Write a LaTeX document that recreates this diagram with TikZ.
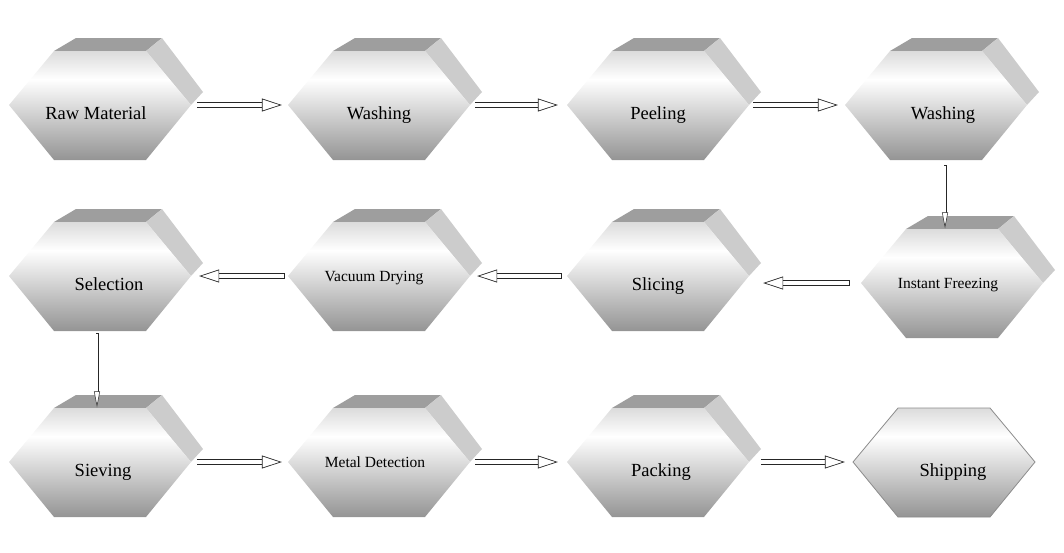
\documentclass[tikz,border=0pt]{standalone}
\usepackage{fontspec}
\setmainfont{Liberation Serif}
\usetikzlibrary{arrows.meta}
\pgfdeclareverticalshading{hexfront}{100bp}{color(0bp)=(black!42); color(25bp)=(black!42); color(62bp)=(white); color(75bp)=(black!14); color(100bp)=(black!14)}
\newcommand{\hexstep}[4][]{%
  \begin{scope}[shift={#3}]
    \fill[hex-top] (-46,-54) -- (-24,-67) -- (62,-67) -- (46,-54) -- cycle;
    \fill[hex-side] (46,-54) -- (62,-67) -- (103,-13) -- (91,0) -- cycle;
    \shade[hex-front] (-91,0) -- (-46,-54) -- (46,-54) -- (91,0) -- (46,55) -- (-46,55) -- cycle;
  \end{scope}
  \node[hex-node, #1] (#2) at #3 {#4};
}

\begin{document}
\begin{tikzpicture}[
      x=1pt, y=-1pt,
      hex-top/.style={fill=black!38},
      hex-side/.style={fill=black!20},
      hex-front/.style={shading=hexfront},
      hex-node/.style={minimum width=182pt, minimum height=109pt, inner sep=0pt},
      big-text/.style={font=\fontsize{18.5}{20}\selectfont, text height=30pt, text depth=2pt},
      small-text/.style={font=\fontsize{15.5}{18}\selectfont, text height=12pt, text depth=2pt},
      nudge/.style={execute at begin node={\hspace*{#1}}},
      flow/.style={draw=black!85, double=white, double distance=4pt, line width=0.7pt, line cap=rect,
        -{Triangle[open, fill=white, length=20pt, width=13pt]}},
      flow-down/.style={flow, double distance=2pt, line width=0.5pt,
        -{Triangle[open, fill=white, length=16pt, width=6pt]}}
    ]
      \useasboundingbox (0,0) rectangle (1064,552);
      \hexstep[big-text, nudge=-8pt]{raw}{(100,105)}{Raw Material}
      \hexstep[big-text]{washa}{(379,105)}{Washing}
      \hexstep[big-text]{peel}{(658,105)}{Peeling}
      \hexstep[big-text, nudge=14pt]{washb}{(936,105)}{Washing}
      \hexstep[small-text, nudge=-8pt]{freeze}{(952,283)}{Instant Freezing}
      \hexstep[big-text]{slice}{(658,276)}{Slicing}
      \hexstep[small-text, nudge=-10pt]{vacdry}{(379,276)}{Vacuum Drying}
      \hexstep[big-text, nudge=18pt]{select}{(100,276)}{Selection}
      \hexstep[big-text, nudge=6pt]{sieve}{(100,462)}{Sieving}
      \hexstep[small-text, nudge=-8pt]{metal}{(379,462)}{Metal Detection}
      \hexstep[big-text, nudge=6pt]{pack}{(658,462)}{Packing}
      \shade[hex-front, draw=black!45, line width=0.8pt] (853,462) -- (898,408) -- (990,408) -- (1035,462) -- (990,517) -- (898,517) -- cycle;
      \node[hex-node, big-text, nudge=18pt] (ship) at (944,462) {Shipping};
      \draw[flow] ([xshift=8pt]raw.east) -- ([xshift=-6pt]washa.west);
      \draw[flow] ([xshift=7pt]washa.east) -- ([xshift=-9pt]peel.west);
      \draw[flow] ([xshift=6pt]peel.east) -- ([xshift=-7pt]washb.west);
      \draw[flow-down] ([xshift=9pt, yshift=-7pt]washb.south) -- ([xshift=9pt]washb.south |- freeze.north);
      \draw[flow] ([xshift=-14pt]freeze.west) -- ([xshift=14pt]slice.east |- freeze.west);
      \draw[flow] ([xshift=-8pt]slice.west) -- ([xshift=7pt]vacdry.east);
      \draw[flow] ([xshift=-6pt]vacdry.west) -- ([xshift=8pt]select.east);
      \draw[flow-down] ([xshift=-3pt, yshift=-4pt]select.south) -- ([xshift=-3pt]select.south |- sieve.north);
      \draw[flow] ([xshift=8pt]sieve.east) -- ([xshift=-6pt]metal.west);
      \draw[flow] ([xshift=7pt]metal.east) -- ([xshift=-9pt]pack.west);
      \draw[flow] ([xshift=14pt]pack.east) -- ([xshift=-8pt]ship.west);
    \end{tikzpicture}
\end{document}
